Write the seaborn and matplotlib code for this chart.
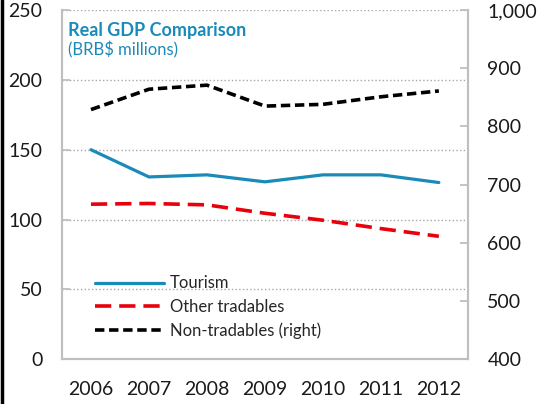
import pandas as pd
import matplotlib.pyplot as plt
from matplotlib.lines import Line2D
import seaborn as sns

sns.set_style("white")
plt.rcParams['font.family'] = ['Lato', 'DejaVu Sans']

# data
years = ["2006", "2007", "2008", "2009", "2010", "2011", "2012"]
tourism = [150, 130.5, 132, 127, 132, 132, 126.5]
other_tradables = [111, 111.5, 110.5, 104.5, 99.5, 93.5, 88]
non_tradables = [829, 864, 871, 835, 838, 851, 861]   # right axis

blue = "#1a8bb9"
red = "#e8000b"
grey = "#bfbfbf"

df = pd.DataFrame({"year": years, "tourism": tourism,
                   "other": other_tradables, "non": non_tradables})

fig = plt.figure(figsize=(5.39, 4.04), dpi=100)
ax = fig.add_axes([0.115, 0.111, 0.753, 0.864])
ax2 = ax.twinx()

sns.lineplot(x="year", y="tourism", data=df, ax=ax, color=blue, lw=2.3)
sns.lineplot(x="year", y="other", data=df, ax=ax, color=red, lw=2.6,
             linestyle=(0, (4.5, 2.2)))
sns.lineplot(x="year", y="non", data=df, ax=ax2, color="black", lw=2.6,
             linestyle=(0, (2.6, 1.3)))

ax.set_xlim(-0.5, 6.5)
ax.set_ylim(0, 250)
ax2.set_ylim(400, 1000)
ax.set_yticks(range(0, 251, 50))
ax2.set_yticks(range(400, 1001, 100))
ax2.set_yticklabels([f"{v:,}" for v in range(400, 1001, 100)])
ax.set_xlabel("")
ax.set_ylabel("")
ax2.set_ylabel("")

# category boundaries as x ticks
ax.set_xticks([i + 0.5 for i in range(6)], minor=False)
ax.set_xticklabels([])
ax.set_xticks(range(7), minor=True)
ax.set_xticklabels(years, minor=True)
ax.tick_params(axis="x", which="major", direction="in", length=6, color=grey, width=1.3)
ax.tick_params(axis="x", which="minor", length=0, pad=16, labelsize=14, labelcolor="#1a1a1a")
ax.tick_params(axis="y", direction="in", length=6, color=grey, width=1.3,
               pad=14, labelsize=14, labelcolor="#1a1a1a")
ax2.tick_params(axis="y", direction="in", length=6, color=grey, width=1.3,
                pad=14, labelsize=14, labelcolor="#1a1a1a")

ax.yaxis.grid(True, linestyle=":", color="#a6a6a6", lw=1)
for a in (ax, ax2):
  for side in ("left", "right", "bottom"):
    a.spines[side].set_color(grey)
    a.spines[side].set_linewidth(1.5)
  a.spines["top"].set_visible(False)

ax.text(0.015, 0.965, "Real GDP Comparison", transform=ax.transAxes,
        color=blue, fontsize=13, fontweight="bold", va="top")
ax.text(0.015, 0.91, "(BRB$ millions)", transform=ax.transAxes,
        color=blue, fontsize=12, va="top")

handles = [Line2D([], [], color=blue, lw=2.3, label="Tourism"),
           Line2D([], [], color=red, lw=2.6, linestyle=(0, (4.5, 2.2)), label="Other tradables"),
           Line2D([], [], color="black", lw=2.6, linestyle=(0, (2.6, 1.3)), label="Non-tradables (right)")]
ax2.legend(handles=handles, loc="lower left", bbox_to_anchor=(0.045, 0.015),
           frameon=False, fontsize=12, handlelength=4.1, handletextpad=0.4,
           labelspacing=0.45)

fig.add_artist(Line2D([0.003, 0.003], [0, 1], color="black", lw=2.5))

plt.savefig("out.png", dpi=100)
